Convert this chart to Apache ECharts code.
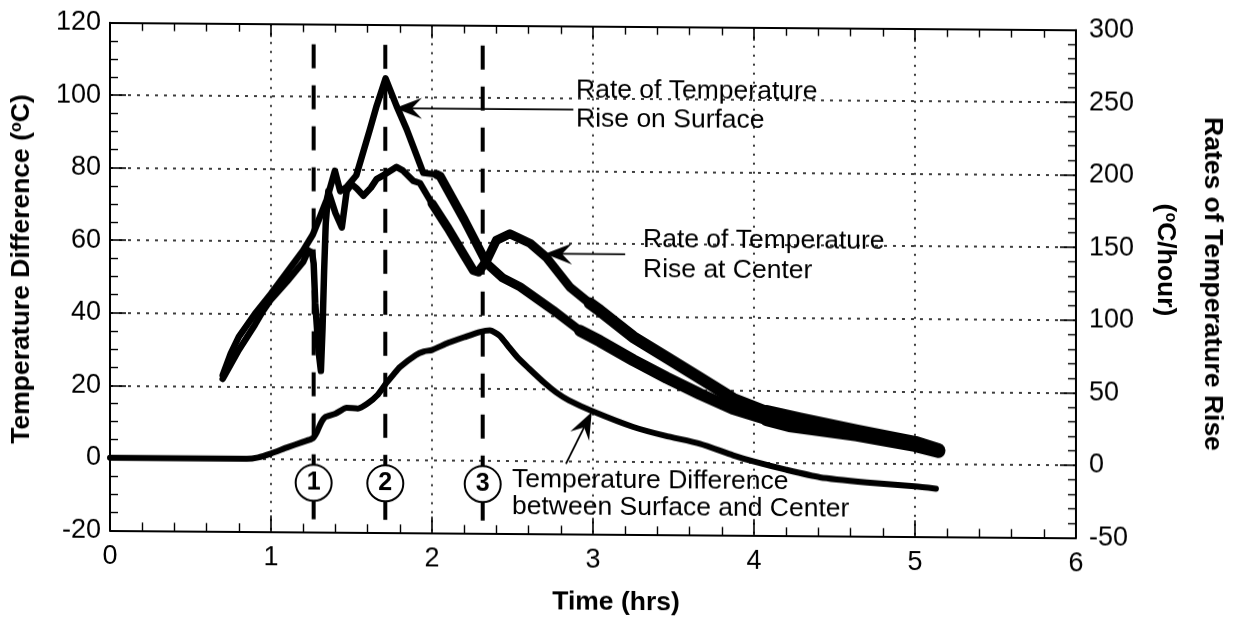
<!DOCTYPE html>
<html>
<head>
<meta charset="utf-8">
<script src="https://cdn.jsdelivr.net/npm/echarts@6/dist/echarts.min.js"></script>
<style>
  html, body { margin: 0; padding: 0; background: #fff; }
  #chart { width: 1243px; height: 623px; transform: skewY(0.433deg); transform-origin: 110px 0; }
</style>
</head>
<body>
<div id="chart"></div>
<script>
// ---------------- DATA ----------------
// Rate of temperature rise on surface (°C/hour, right axis)
const surfaceTime = [0.70,0.75,0.80,0.90,1.00,1.10,1.20,1.26,1.30,1.346,1.397,1.43,1.47,1.53,1.615,1.656,1.712,1.78,1.843,1.905,1.946,2.03,2.05,2.20,2.34,2.44,2.547,2.753,2.92,3.043,3.25,3.458,3.665,3.87,4.08,4.22,4.64,5.00,5.145];
const surfaceRate = [57.5,72.5,84,100,114,129,144,155,166,179,199,185,188,196,228,244,263,244,228,210,198,197,196,166,136,126,120,104,90,83,70,58,47,37,30,26,20,13,9];

// Rate of temperature rise at center (°C/hour, right axis)
const centerTime = [0.70,0.75,0.80,0.90,0.95,1.00,1.10,1.20,1.232,1.255,1.265,1.275,1.295,1.31,1.32,1.33,1.34,1.356,1.40,1.44,1.47,1.50,1.532,1.574,1.62,1.656,1.71,1.78,1.82,1.884,1.925,2.00,2.10,2.20,2.257,2.288,2.34,2.40,2.484,2.61,2.71,2.857,2.98,3.043,3.25,3.458,3.665,3.87,4.08,4.286,4.64,5.00,5.145];
const centerRate = [55,65,75,92.5,102,110,122.5,136,144,142.5,135,107.5,75,61,90,130,162.5,185,170,160,185,190,187,182,187.5,193.5,197,202,199.5,192.5,191,177,160,141.5,131,130,138,152,156.5,150,140.5,120,109,104,86,72,58,44,35,30,22,14.5,9.5];

// Temperature difference between surface and center (°C, left axis)
const diffTime = [0,0.5,0.85,0.92,1.0,1.1,1.2,1.26,1.285,1.31,1.335,1.4,1.47,1.54,1.6,1.66,1.71,1.76,1.8,1.9,1.95,2.0,2.1,2.2,2.3,2.36,2.42,2.47,2.53,2.6,2.7,2.77,2.85,3.0,3.25,3.45,3.665,3.87,4.0,4.2,4.41,4.7,5.0,5.13];
const tempDiff = [0,0,0,0.4,1.5,3.2,4.8,5.8,7.5,10,11.6,12.6,14.3,14.1,15.5,17.8,20.8,23.5,25.6,29.0,30.0,30.4,32.4,34.0,35.5,35.9,34.5,31.8,28.6,25.6,21.5,19.0,16.8,13.8,9.6,7.2,5.1,2.0,0.3,-1.9,-3.9,-5.2,-6.2,-6.8];

// Event markers (vertical dashed lines + circled numbers)
const eventTimes = [1.265, 1.71, 2.315];
const eventLabels = ['1', '2', '3'];
const eventLineRange = [114.5, -20];   // °C, left axis
const eventCircleLevel = -6.5;          // °C, left axis

// Annotation arrows: [tail, tip] in (hrs, °C) left-axis units
const arrowSurface = [[2.878, 97.0], [1.770, 97.0]];
const arrowCenter  = [[3.200, 57.2], [2.702, 57.2]];
const arrowDiff    = [[2.832, -0.7], [2.992, 13.6]];

// Axis ranges
const xRange = [0, 6, 1];
const leftRange = [-20, 120, 20];
const rightRange = [-50, 300, 50];

// ---------------- CHART ----------------
const FONT = '"Liberation Sans", Arial, Helvetica, sans-serif';
const chart = echarts.init(document.getElementById('chart'), null, { renderer: 'canvas' });

const zip = (xs, ys) => xs.map((x, i) => [x, ys[i]]);
const tickLine = { color: '#000', width: 1.6 };
const minorLine = { color: '#000', width: 1.4 };
const frameLine = { color: '#000', width: 2 };

// thickness of the noisy recorded traces grows along time
const widthBands = [[0, 1.95, 6.5], [1.95, 2.9, 9], [2.9, 4.0, 12], [4.0, 6, 14]];
function rateSeries(xs, ys) {
  return widthBands.map(([a, b, w]) => {
    const pts = [];
    for (let i = 0; i < xs.length; i++) if (xs[i] >= a && xs[i] <= b) pts.push([xs[i], ys[i]]);
    const nextIdx = xs.findIndex(x => x > b);
    if (nextIdx >= 0) pts.push([xs[nextIdx], ys[nextIdx]]);
    return {
      type: 'line', xAxisIndex: 0, yAxisIndex: 1, data: pts, symbol: 'none', silent: true,
      lineStyle: { color: '#000', width: w, cap: 'round', join: 'round' }, z: 4
    };
  });
}

const eventLineSeries = eventTimes.map(t => ({
  type: 'line', xAxisIndex: 0, yAxisIndex: 0, symbol: 'none', silent: true,
  data: [[t, eventLineRange[0]], [t, eventLineRange[1]]],
  lineStyle: { color: '#000', width: 4, type: [24, 17] }, z: 3
}));

const option = {
  animation: false,
  backgroundColor: '#fff',
  grid: { left: 110, top: 22.7, width: 966, height: 507.6, containLabel: false, outerBoundsMode: 'none' },
  xAxis: [{
    type: 'value', min: xRange[0], max: xRange[1], interval: xRange[2], position: 'bottom',
    axisLine: { show: true, onZero: false, lineStyle: frameLine },
    axisTick: { show: true, inside: true, length: 16, lineStyle: tickLine },
    minorTick: { show: true, splitNumber: 5, length: 8, lineStyle: minorLine },
    axisLabel: { show: true, color: '#000', fontSize: 27, fontFamily: FONT, margin: 13, showMinLabel: true, showMaxLabel: true },
    splitLine: { show: true, lineStyle: { color: '#000', width: 1.6, type: [2, 7] } },
    minorSplitLine: { show: false }
  }, {
    type: 'value', min: xRange[0], max: xRange[1], interval: xRange[2], position: 'top',
    axisLine: { show: true, onZero: false, lineStyle: frameLine },
    axisTick: { show: true, inside: true, length: 13, lineStyle: tickLine },
    minorTick: { show: true, splitNumber: 5, length: 8, lineStyle: minorLine },
    axisLabel: { show: false }, splitLine: { show: false }
  }],
  yAxis: [{
    type: 'value', min: leftRange[0], max: leftRange[1], interval: leftRange[2], position: 'left',
    axisLine: { show: true, onZero: false, lineStyle: frameLine },
    axisTick: { show: true, inside: true, length: 16, lineStyle: tickLine },
    minorTick: { show: true, splitNumber: 4, length: 8, lineStyle: minorLine },
    axisLabel: { color: '#000', fontSize: 27, fontFamily: FONT, margin: 9, showMinLabel: true, showMaxLabel: true },
    splitLine: { show: true, lineStyle: { color: '#000', width: 1.5, type: [3, 6] } }
  }, {
    type: 'value', min: rightRange[0], max: rightRange[1], interval: rightRange[2], position: 'right',
    axisLine: { show: true, onZero: false, lineStyle: frameLine },
    axisTick: { show: true, inside: true, length: 16, lineStyle: tickLine },
    minorTick: { show: true, splitNumber: 5, length: 8, lineStyle: minorLine },
    axisLabel: { color: '#000', fontSize: 27, fontFamily: FONT, margin: 13, showMinLabel: true, showMaxLabel: true },
    splitLine: { show: false }
  }],
  series: [
    ...eventLineSeries,
    ...rateSeries(surfaceTime, surfaceRate),
    ...rateSeries(centerTime, centerRate),
    {
      type: 'line', xAxisIndex: 0, yAxisIndex: 0, data: zip(diffTime, tempDiff),
      symbol: 'none', smooth: 0.2, silent: true,
      lineStyle: { color: '#000', width: 6, cap: 'round', join: 'round' }, z: 4
    },
    {
      type: 'scatter', xAxisIndex: 0, yAxisIndex: 0, silent: true,
      data: eventTimes.map(t => [t, eventCircleLevel]),
      symbol: 'circle', symbolSize: 36,
      itemStyle: { color: '#fff', borderColor: '#000', borderWidth: 2, opacity: 1 },
      label: {
        show: true, position: 'inside', formatter: p => eventLabels[p.dataIndex],
        color: '#000', fontSize: 25, fontWeight: 'bold', fontFamily: FONT
      },
      z: 6
    }
  ]
};
chart.setOption(option);

// ---------------- ANNOTATIONS ----------------
const toPx = p => chart.convertToPixel({ xAxisIndex: 0, yAxisIndex: 0 }, p);
function arrow([tail, tip]) {
  const p0 = toPx(tail), p1 = toPx(tip);
  const dx = p0[0] - p1[0], dy = p0[1] - p1[1];
  const len = Math.hypot(dx, dy);
  const ux = dx / len, uy = dy / len, nx = -uy, ny = ux;
  const L = 27, W = 10.5, N = 17;
  return [
    { type: 'polyline', z: 20, silent: true,
      shape: { points: [p0, [p1[0] + ux * N, p1[1] + uy * N]] },
      style: { stroke: '#000', lineWidth: 1.8, fill: null } },
    { type: 'polygon', z: 20, silent: true,
      shape: { points: [p1, [p1[0] + ux * L + nx * W, p1[1] + uy * L + ny * W],
                        [p1[0] + ux * N, p1[1] + uy * N],
                        [p1[0] + ux * L - nx * W, p1[1] + uy * L - ny * W]] },
      style: { fill: '#000' } }
  ];
}

const annFont = { fontSize: 26.5, fontFamily: FONT, fill: '#000', align: 'left', verticalAlign: 'middle' };
const txt = (x, y, s) => ({ type: 'text', x, y, z: 20, silent: true, style: Object.assign({ text: s }, annFont) });
const titleStyle = { fontSize: 26.5, fontWeight: 'bold', fontFamily: FONT, fill: '#000', align: 'center', verticalAlign: 'middle' };
const supRich = { s: { fontSize: 16, fontWeight: 'bold', fontFamily: FONT, fill: '#000', verticalAlign: 'top' } };

chart.setOption({
  graphic: [
    txt(576, 86.5, 'Rate of Temperature'),
    txt(576, 115.7, 'Rise on Surface'),
    txt(643, 235.2, 'Rate of Temperature'),
    txt(643, 266, 'Rise at Center'),
    txt(512, 477, 'Temperature Difference'),
    txt(512, 503.7, 'between Surface and Center'),
    { type: 'text', x: 22, y: 269.7, rotation: Math.PI / 2, z: 20, silent: true,
      style: Object.assign({ text: 'Temperature Difference ({s|o}C)', rich: supRich }, titleStyle) },
    { type: 'text', x: 1212, y: 275.7, rotation: -Math.PI / 2, z: 20, silent: true,
      style: Object.assign({ text: 'Rates of Temperature Rise' }, titleStyle) },
    { type: 'text', x: 1165, y: 252, rotation: -Math.PI / 2, z: 20, silent: true,
      style: Object.assign({ text: '({s|o}C/hour)', rich: supRich }, titleStyle) },
    { type: 'text', x: 616, y: 599, z: 20, silent: true,
      style: Object.assign({ text: 'Time (hrs)' }, titleStyle) },
    ...arrow(arrowSurface),
    ...arrow(arrowCenter),
    ...arrow(arrowDiff)
  ]
});
</script>
</body>
</html>
